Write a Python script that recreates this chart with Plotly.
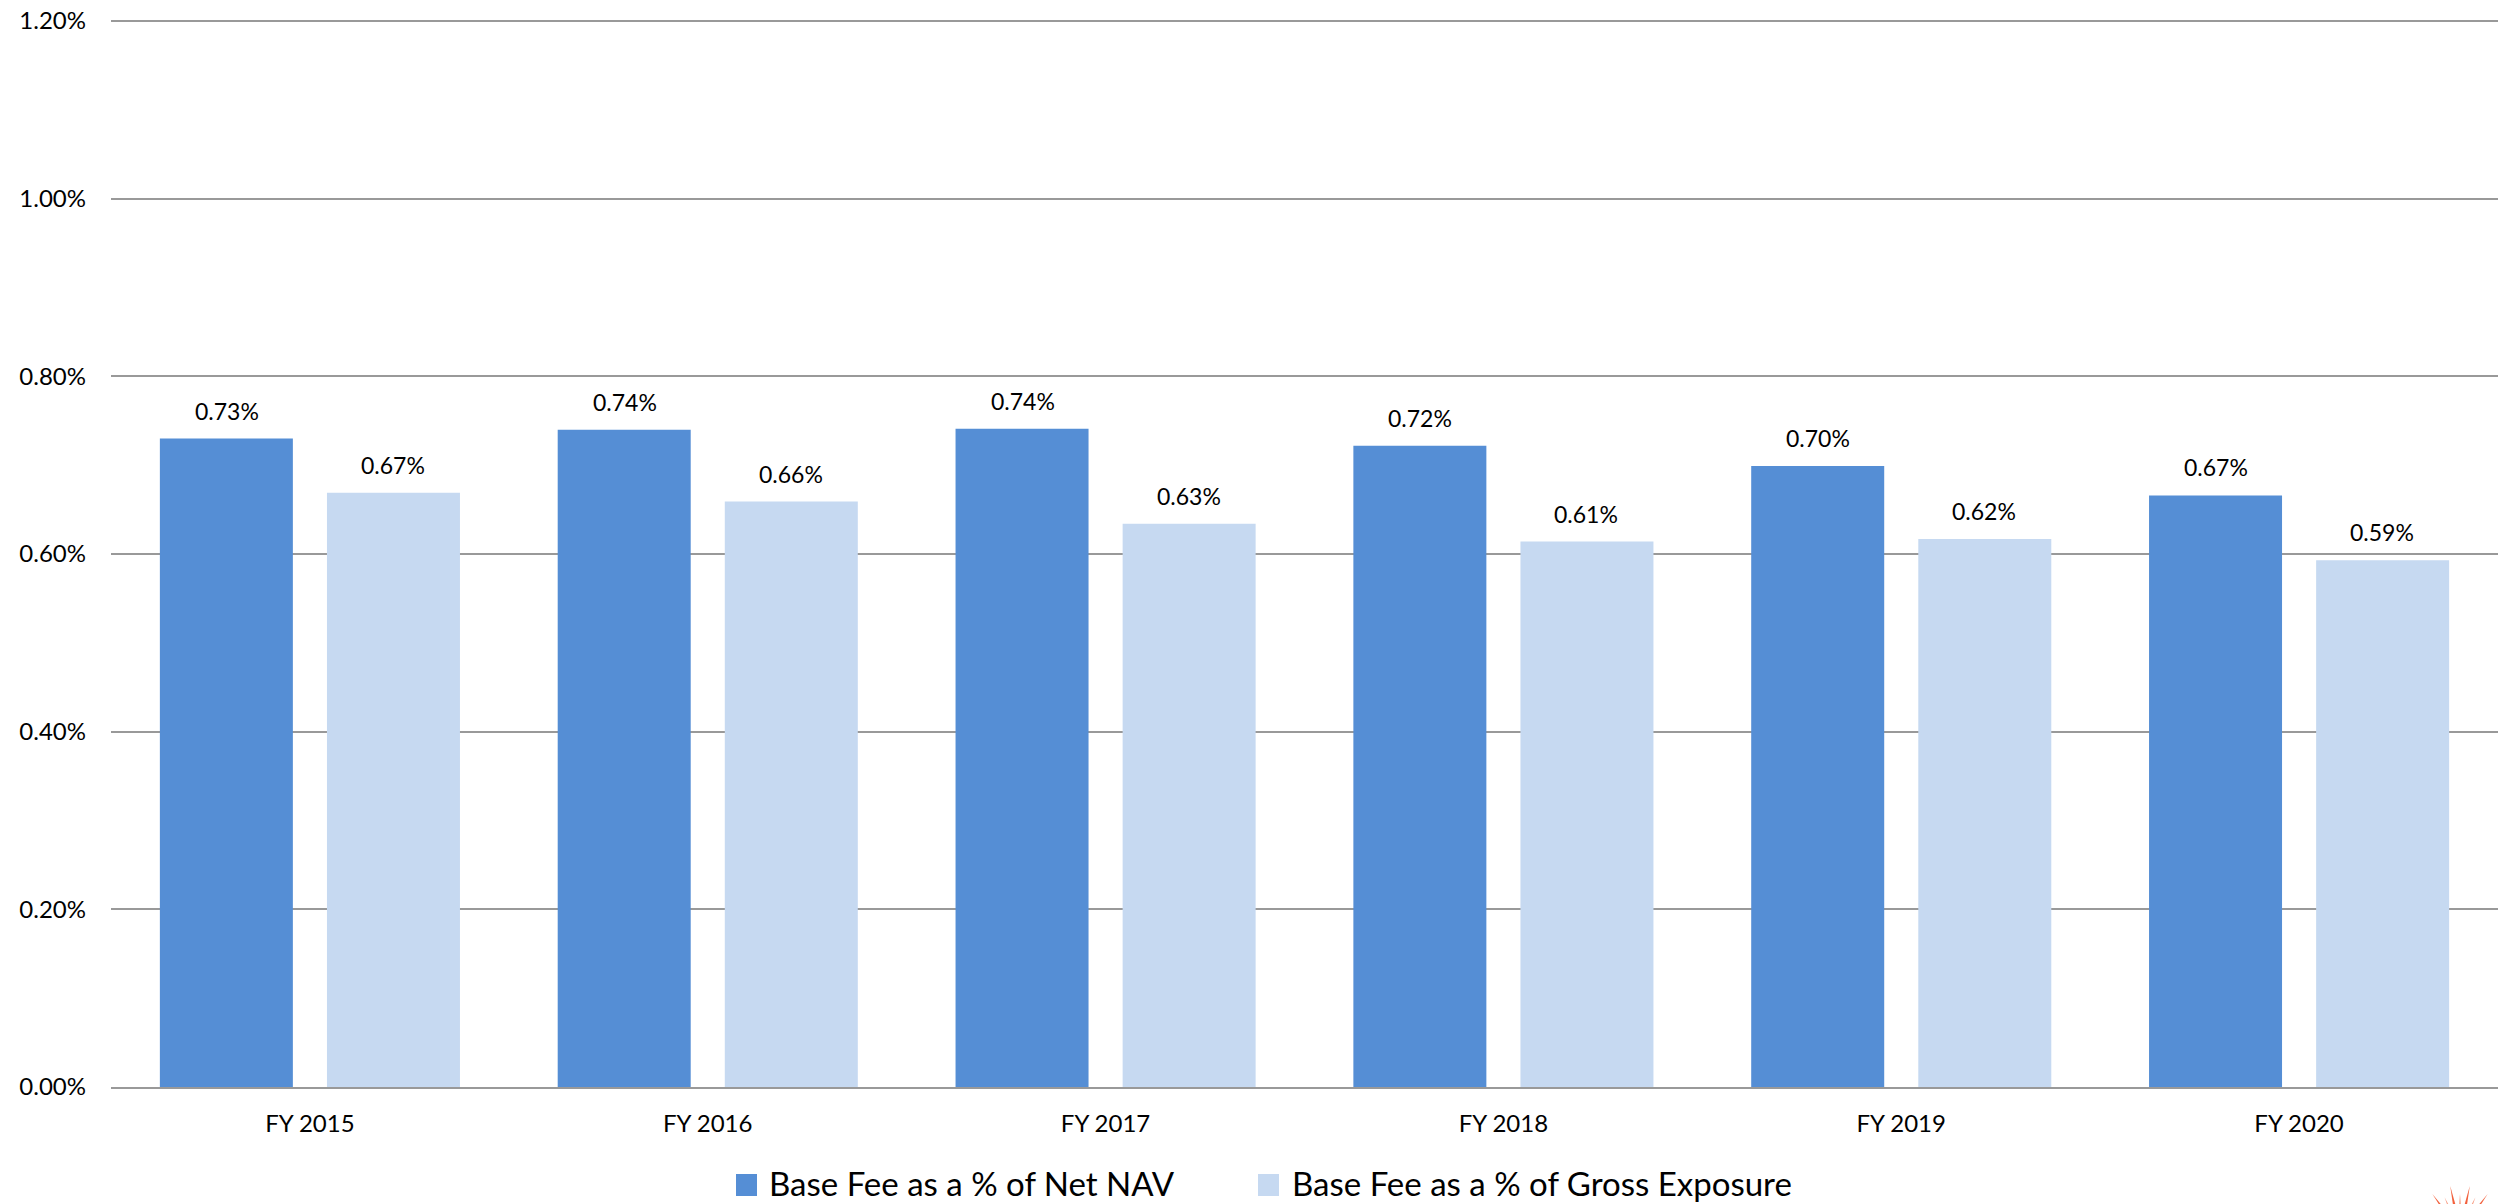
import math
import plotly.graph_objects as go

# Fiscal years on the category axis
years = ["FY 2015", "FY 2016", "FY 2017", "FY 2018", "FY 2019", "FY 2020"]

# Base fee, in percent
fee_net_nav = [0.730, 0.740, 0.741, 0.722, 0.699, 0.666]
fee_gross_exposure = [0.669, 0.659, 0.634, 0.614, 0.617, 0.593]

series_names = ["Base Fee as a % of Net NAV", "Base Fee as a % of Gross Exposure"]
series_colors = ["#558ED5", "#C6D9F1"]

y_ticks = [0.0, 0.2, 0.4, 0.6, 0.8, 1.0, 1.2]

W, H = 2511, 1204
L, R, T, B = 111, 13, 20, 117
PW, PH = W - L - R, H - T - B

FONT = "Lato, Carlito, 'Open Sans', sans-serif"


def px_x(px):
    return (px - L) / PW


def px_y(py):
    return (H - B - py) / PH


fig = go.Figure()
for name, vals, col in zip(series_names, [fee_net_nav, fee_gross_exposure], series_colors):
    fig.add_trace(go.Bar(x=years, y=vals, name=name, marker=dict(color=col, line=dict(width=0)),
                         showlegend=False))

annotations = []
# value labels above each bar
for vals, shift in [(fee_net_nav, -83), (fee_gross_exposure, 83)]:
    for yr, v in zip(years, vals):
        annotations.append(dict(x=yr, y=v, xref="x", yref="y", text=f"{v:.2f}%",
                                showarrow=False, xanchor="center", yanchor="bottom",
                                xshift=shift, yshift=12,
                                font=dict(family=FONT, size=23, color="#000000")))

# legend drawn below the plot
shapes = []
legend_items = [(736, 767, series_names[0], series_colors[0]),
                (1258, 1290, series_names[1], series_colors[1])]
for x0, tx, name, col in legend_items:
    shapes.append(dict(type="rect", xref="paper", yref="paper",
                       x0=px_x(x0), x1=px_x(x0 + 21), y0=px_y(1196), y1=px_y(1174),
                       fillcolor=col, line=dict(width=0)))
    annotations.append(dict(x=px_x(tx), y=px_y(1183), xref="paper", yref="paper",
                            text=name, showarrow=False, xanchor="left", yanchor="middle",
                            font=dict(family=FONT, size=33, color="#000000")))

# small red starburst in the lower right corner
cx, cy = 2460, 1232
for i, ang in enumerate(range(-60, 61, 12)):
    a = math.radians(ang)
    length = 47 if i % 2 == 0 else 38
    tipx, tipy = cx + length * math.sin(a), cy - length * math.cos(a)
    px_, py_ = math.cos(a) * 3, math.sin(a) * 3
    path = (f"M {px_x(cx - px_)},{px_y(cy - py_)} L {px_x(tipx)},{px_y(tipy)} "
            f"L {px_x(cx + px_)},{px_y(cy + py_)} Z")
    shapes.append(dict(type="path", xref="paper", yref="paper", path=path,
                       fillcolor="#F2603C" if i % 2 == 0 else "#F79A80",
                       line=dict(width=0), layer="above"))

fig.update_layout(
    width=W, height=H,
    margin=dict(l=L, r=R, t=T, b=B, pad=0, autoexpand=False),
    paper_bgcolor="white", plot_bgcolor="white",
    barmode="group", bargap=0.16, bargroupgap=0.204,
    font=dict(family=FONT, color="#000000"),
    annotations=annotations, shapes=shapes,
    xaxis=dict(showgrid=False, showline=True, linecolor="#999999", linewidth=2,
               ticks="", ticklabelstandoff=14, automargin=False,
               tickfont=dict(family=FONT, size=24, color="#000000")),
    yaxis=dict(range=[0, 1.2012], tickvals=y_ticks,
               ticktext=[f"{v:.2f}%" for v in y_ticks],
               showgrid=True, gridcolor="#999999", gridwidth=2, zeroline=False,
               showline=False, ticks="", ticklabelstandoff=24, automargin=False,
               tickfont=dict(family=FONT, size=24, color="#000000")),
)

fig.write_html("out.html")
